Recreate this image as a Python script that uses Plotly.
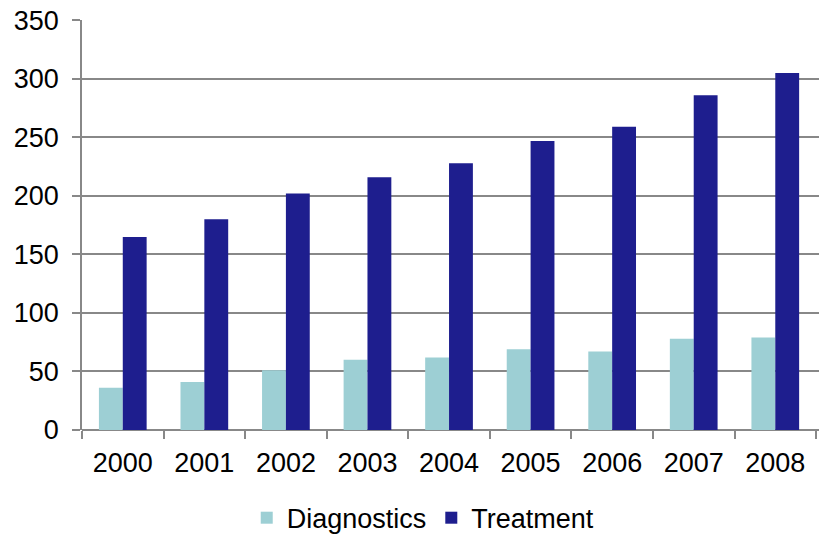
import plotly.graph_objects as go

years = ["2000", "2001", "2002", "2003", "2004", "2005", "2006", "2007", "2008"]
diagnostics = [36, 41, 51, 60, 62, 69, 67, 78, 79]
treatment = [165, 180, 202, 216, 228, 247, 259, 286, 305]
y_ticks = [0, 50, 100, 150, 200, 250, 300, 350]

font = "Liberation Sans, Arial, sans-serif"

fig = go.Figure()
fig.add_trace(go.Bar(name="Diagnostics", x=years, y=diagnostics,
                     marker=dict(color="#9dcfd4", line=dict(width=0))))
fig.add_trace(go.Bar(name="Treatment", x=years, y=treatment,
                     marker=dict(color="#1e1e8e", line=dict(width=0))))

fig.update_layout(
    width=819, height=534,
    margin=dict(l=82, r=0, t=20, b=104, autoexpand=False),
    paper_bgcolor="white", plot_bgcolor="white",
    barmode="group", bargap=0.415, bargroupgap=0,
    font=dict(family=font, size=27, color="black"),
    showlegend=True,
    legend=dict(orientation="h", x=0.463, xanchor="center", y=-0.215, yanchor="middle",
                font=dict(size=27), itemwidth=30, tracegroupgap=0),
    xaxis=dict(type="category", range=[-0.5, 8.536], showgrid=False, automargin=False,
               showline=False, ticks="outside", tickson="boundaries",
               ticklen=8, tickcolor="#888888", tickwidth=1.5,
               ticklabelstandoff=14, tickfont=dict(size=27)),
    yaxis=dict(range=[0, 350.3], tickvals=y_ticks, showgrid=True, automargin=False,
               ticklabeloverflow="allow",
               gridcolor="#888888", gridwidth=1.5,
               showline=True, linecolor="#888888", linewidth=1.5,
               zeroline=True, zerolinecolor="#888888", zerolinewidth=1.5,
               ticks="outside", ticklen=8, tickcolor="#888888", tickwidth=1.5,
               ticklabelstandoff=8, tickfont=dict(size=27)),
)

fig.write_html("out.html", config={"displayModeBar": False},
               post_script="document.body.style.margin='0';")
